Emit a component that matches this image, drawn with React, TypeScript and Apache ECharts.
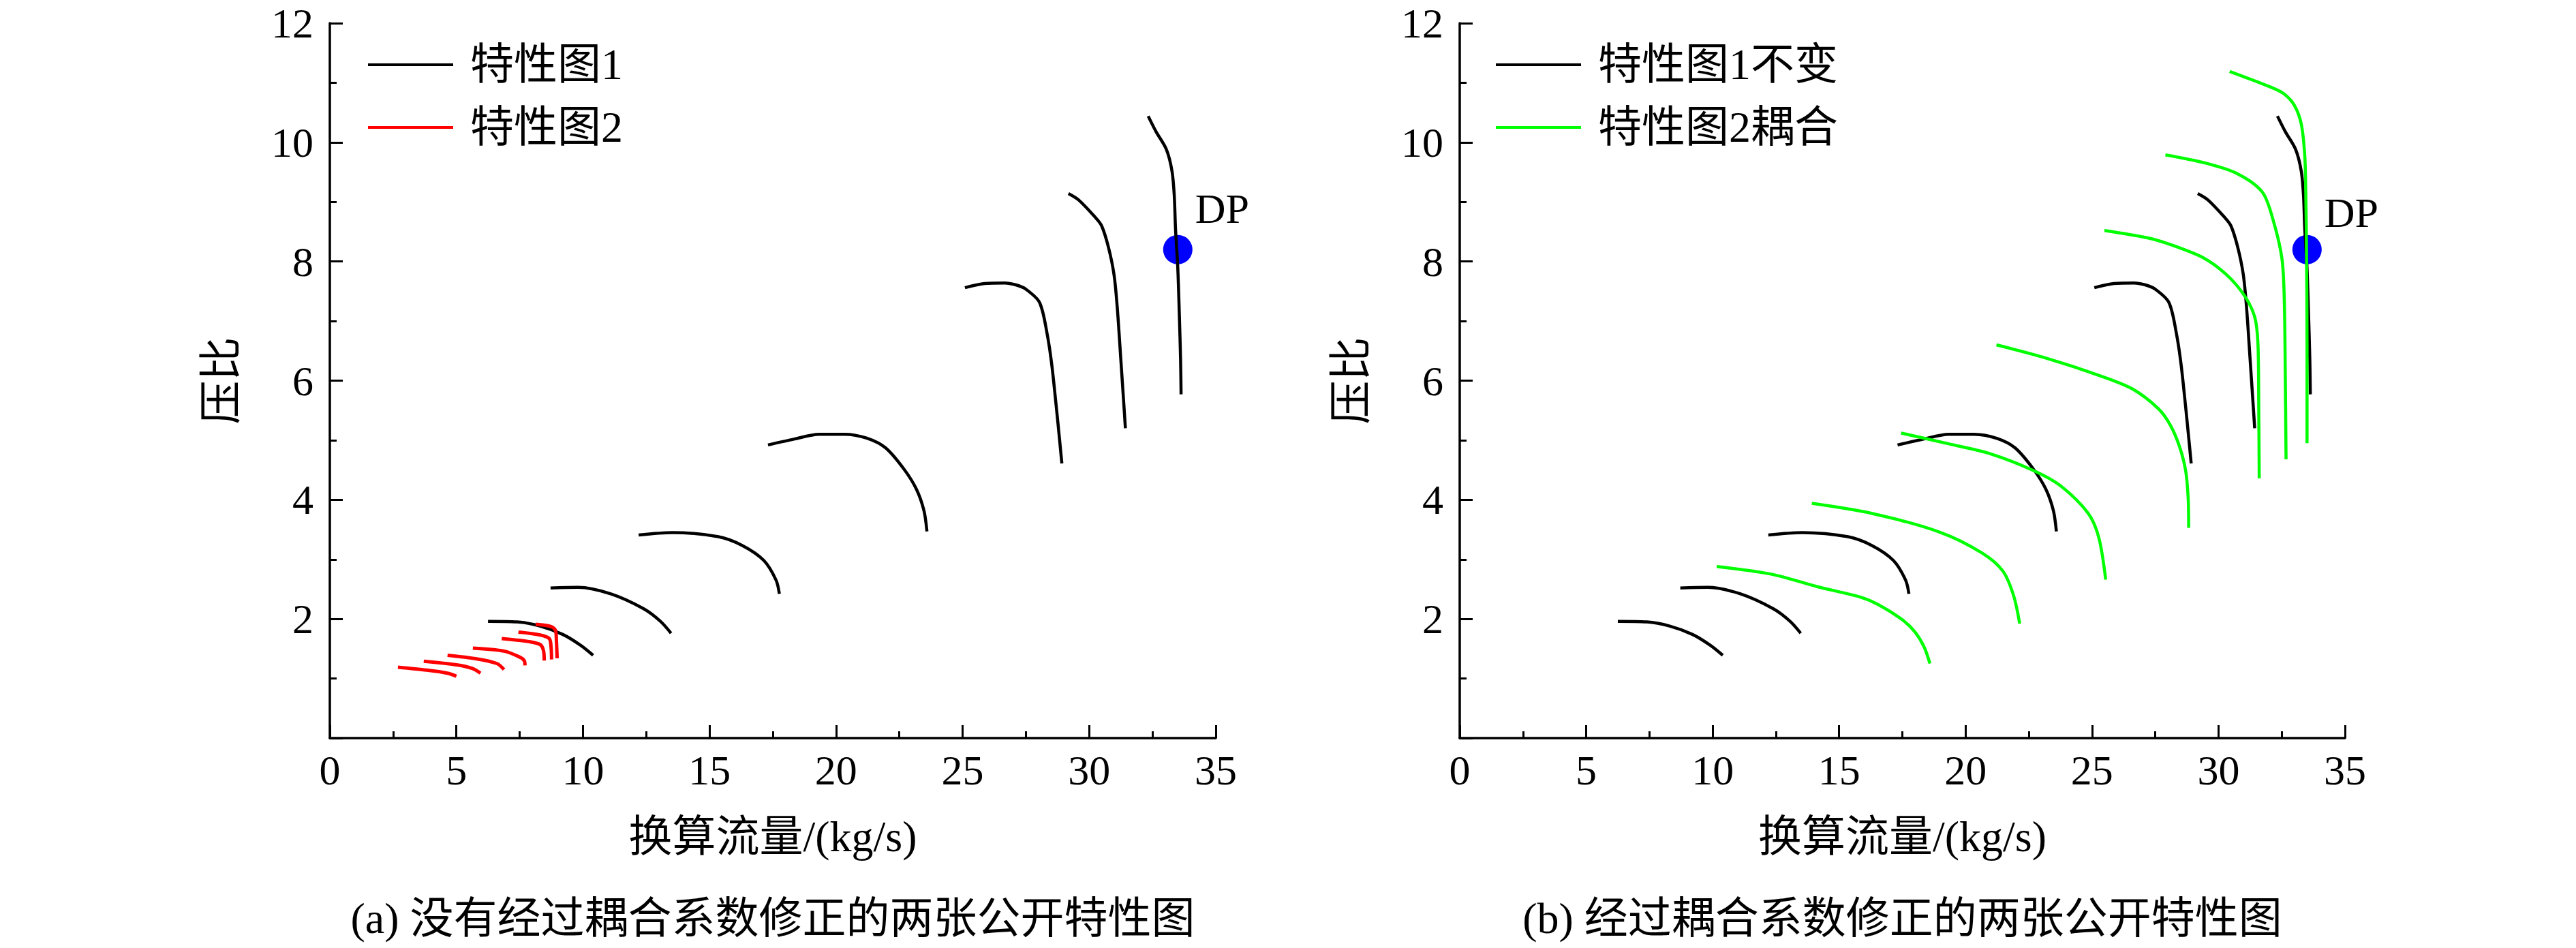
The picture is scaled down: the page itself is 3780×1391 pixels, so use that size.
import { useEffect, useRef } from "react";
import * as echarts from "echarts";

const FONT = '"Liberation Serif", "Noto Sans CJK SC", serif';

// axis ranges / tick labels
const X_RANGE = [0, 35];
const X_STEP = 5;
const Y_RANGE = [0, 12];
const Y_STEP = 2;
const X_NAME = "换算流量/(kg/s)";
const Y_NAME = "压比";

const LEGEND_A = ["特性图1", "特性图2"];
const LEGEND_B = ["特性图1不变", "特性图2耦合"];
const CAPTIONS = ["(a) 没有经过耦合系数修正的两张公开特性图", "(b) 经过耦合系数修正的两张公开特性图"];

// 特性图1 speed lines (identical in both panels)
const map1Lines: number[][][] = [
  [[6.25, 1.96], [7.4, 1.95], [8.3, 1.88], [9.2, 1.74], [9.9, 1.56], [10.4, 1.39]],
  [[8.72, 2.52], [9.8, 2.53], [11.1, 2.42], [12.4, 2.17], [13.06, 1.96], [13.48, 1.76]],
  [[12.2, 3.41], [13.54, 3.45], [15.35, 3.38], [16.31, 3.23], [17.15, 2.98], [17.63, 2.65], [17.76, 2.42]],
  [[17.31, 4.92], [18.36, 5.02], [19.32, 5.1], [20.34, 5.1], [21.25, 5.03], [21.96, 4.87], [22.69, 4.51], [23.17, 4.18], [23.47, 3.82], [23.59, 3.47]],
  [[25.09, 7.56], [25.87, 7.63], [26.66, 7.64], [27.08, 7.61], [27.48, 7.54], [28.04, 7.31], [28.34, 6.78], [28.52, 6.27], [28.7, 5.56], [28.82, 5.05], [28.92, 4.61]],
  [[29.18, 9.14], [29.59, 9.03], [30.22, 8.75], [30.49, 8.6], [30.76, 8.24], [30.98, 7.78], [31.11, 7.22], [31.25, 6.35], [31.37, 5.59], [31.43, 5.2]],
  [[32.33, 10.44], [32.64, 10.18], [33.05, 9.88], [33.27, 9.52], [33.36, 9.11], [33.41, 8.55], [33.5, 7.89], [33.56, 7.12], [33.61, 6.35], [33.63, 5.77]],
];

// 特性图2 as published (red)
const map2Lines: number[][][] = [
  [[2.69, 1.19], [3.83, 1.14], [4.64, 1.09], [5.0, 1.04]],
  [[3.71, 1.29], [5.0, 1.23], [5.62, 1.17], [5.95, 1.09]],
  [[4.65, 1.39], [5.8, 1.33], [6.61, 1.25], [6.88, 1.15]],
  [[5.65, 1.51], [6.88, 1.46], [7.5, 1.36], [7.68, 1.3], [7.71, 1.22]],
  [[6.79, 1.67], [7.86, 1.62], [8.31, 1.57], [8.44, 1.47], [8.47, 1.3]],
  [[7.45, 1.78], [8.31, 1.73], [8.67, 1.67], [8.74, 1.53], [8.76, 1.32]],
  [[8.13, 1.91], [8.76, 1.87], [8.92, 1.8], [8.95, 1.65], [8.98, 1.34]],
];

// 特性图2 after coupling correction (green)
const map2CoupledLines: number[][][] = [
  [[10.16, 2.88], [12.34, 2.75], [14.15, 2.54], [15.82, 2.37], [16.55, 2.24], [17.52, 1.98], [18.0, 1.78], [18.36, 1.53], [18.59, 1.25]],
  [[13.92, 3.94], [16.31, 3.77], [18.96, 3.46], [20.64, 3.11], [21.48, 2.8], [21.9, 2.39], [22.14, 1.92]],
  [[17.45, 5.12], [19.32, 4.94], [21.0, 4.77], [22.69, 4.49], [23.77, 4.23], [24.85, 3.77], [25.27, 3.36], [25.54, 2.66]],
  [[21.22, 6.6], [23.17, 6.38], [25.33, 6.08], [26.6, 5.86], [27.62, 5.53], [28.1, 5.25], [28.46, 4.89], [28.7, 4.49], [28.8, 4.03], [28.82, 3.53]],
  [[25.49, 8.52], [27.16, 8.4], [28.06, 8.29], [29.41, 8.06], [30.31, 7.78], [31.02, 7.43], [31.43, 7.07], [31.56, 6.61], [31.59, 5.59], [31.61, 4.36]],
  [[27.9, 9.79], [29.5, 9.65], [30.76, 9.47], [31.74, 9.16], [32.19, 8.65], [32.51, 8.04], [32.6, 7.37], [32.64, 6.1], [32.67, 4.68]],
  [[30.44, 11.19], [32.1, 10.92], [32.6, 10.81], [33.0, 10.62], [33.27, 10.31], [33.41, 9.78], [33.45, 9.16], [33.48, 8.14], [33.5, 6.61], [33.5, 4.95]],
];

const DESIGN_POINT = [33.5, 8.2];

const GRIDS = [
  { left: 484, top: 34, width: 1300, height: 1049 },
  { left: 2142, top: 34, width: 1299, height: 1049 },
];

function xAxisFor(gridIndex: number) {
  return {
    type: "value" as const,
    gridIndex,
    min: X_RANGE[0],
    max: X_RANGE[1],
    interval: X_STEP,
    name: X_NAME,
    nameLocation: "middle" as const,
    nameGap: 112,
    nameTextStyle: { fontFamily: FONT, fontSize: 64, color: "#000" },
    axisLine: { onZero: false, lineStyle: { color: "#000", width: 3.5 } },
    axisTick: { inside: true, length: 19, lineStyle: { color: "#000", width: 3 } },
    minorTick: { show: true, splitNumber: 2, length: 10, lineStyle: { color: "#000", width: 3 } },
    axisLabel: { fontFamily: FONT, fontSize: 62, color: "#000", margin: 16 },
    splitLine: { show: false },
  };
}

function yAxisFor(gridIndex: number) {
  return {
    type: "value" as const,
    gridIndex,
    min: Y_RANGE[0],
    max: Y_RANGE[1],
    interval: Y_STEP,
    name: Y_NAME,
    nameLocation: "middle" as const,
    nameGap: 128,
    nameTextStyle: { fontFamily: FONT, fontSize: 64, color: "#000" },
    axisLine: { onZero: false, lineStyle: { color: "#000", width: 3.5 } },
    axisTick: { inside: true, length: 19, lineStyle: { color: "#000", width: 3 } },
    minorTick: { show: true, splitNumber: 2, length: 10, lineStyle: { color: "#000", width: 3 } },
    axisLabel: {
      fontFamily: FONT,
      fontSize: 62,
      color: "#000",
      margin: 24,
      formatter: (v: number) => (v === 0 ? "" : String(v)),
    },
    splitLine: { show: false },
  };
}

function lineSeries(lines: number[][][], name: string, color: string, width: number, idx: number) {
  return lines.map((pts) => ({
    type: "line" as const,
    name,
    xAxisIndex: idx,
    yAxisIndex: idx,
    data: pts,
    smooth: 0.3,
    symbol: "none",
    z: 3,
    lineStyle: { color, width },
    itemStyle: { color },
  }));
}

function dpSeries(idx: number, offsetY: number) {
  return {
    type: "scatter" as const,
    name: "DP",
    xAxisIndex: idx,
    yAxisIndex: idx,
    data: [DESIGN_POINT],
    symbolSize: 43,
    z: 2,
    itemStyle: { color: "#0000ff", opacity: 1 },
    label: {
      show: true,
      formatter: "DP",
      position: "right",
      distance: 4,
      offset: [0, offsetY],
      fontFamily: FONT,
      fontSize: 62,
      color: "#000",
    },
  };
}

function legendFor(left: number, data: string[]) {
  return {
    orient: "vertical" as const,
    left,
    top: 63,
    padding: 0,
    itemGap: 28,
    itemWidth: 125,
    itemHeight: 4,
    icon: "rect",
    data,
    textStyle: { fontFamily: FONT, fontSize: 64, color: "#000", padding: [0, 0, 0, 20] },
  };
}

export default function App() {
  const chartRef = useRef<HTMLDivElement>(null);

  useEffect(() => {
    document.body.style.margin = "0";
    if (!chartRef.current) return;
    const chart = echarts.init(chartRef.current, undefined, { renderer: "svg" });

    const option = {
      animation: false,
      backgroundColor: "#fff",
      grid: GRIDS,
      xAxis: [xAxisFor(0), xAxisFor(1)],
      yAxis: [yAxisFor(0), yAxisFor(1)],
      legend: [legendFor(540, LEGEND_A), legendFor(2195, LEGEND_B)],
      series: [
        dpSeries(0, -60),
        ...lineSeries(map1Lines, LEGEND_A[0], "#000000", 4.5, 0),
        ...lineSeries(map2Lines, LEGEND_A[1], "#ff0000", 5, 0),
        dpSeries(1, -54),
        ...lineSeries(map1Lines, LEGEND_B[0], "#000000", 4.5, 1),
        ...lineSeries(map2CoupledLines, LEGEND_B[1], "#00ff00", 4.5, 1),
      ],
      graphic: CAPTIONS.map((text, i) => ({
        type: "text",
        x: GRIDS[i].left + GRIDS[i].width / 2,
        y: 1347,
        style: {
          text,
          fontFamily: FONT,
          fontSize: 64,
          fill: "#000",
          align: "center",
          verticalAlign: "middle",
        },
      })),
    };

    chart.setOption(option as any);
    return () => chart.dispose();
  }, []);

  return <div ref={chartRef} style={{ width: 3780, height: 1391 }} />;
}
